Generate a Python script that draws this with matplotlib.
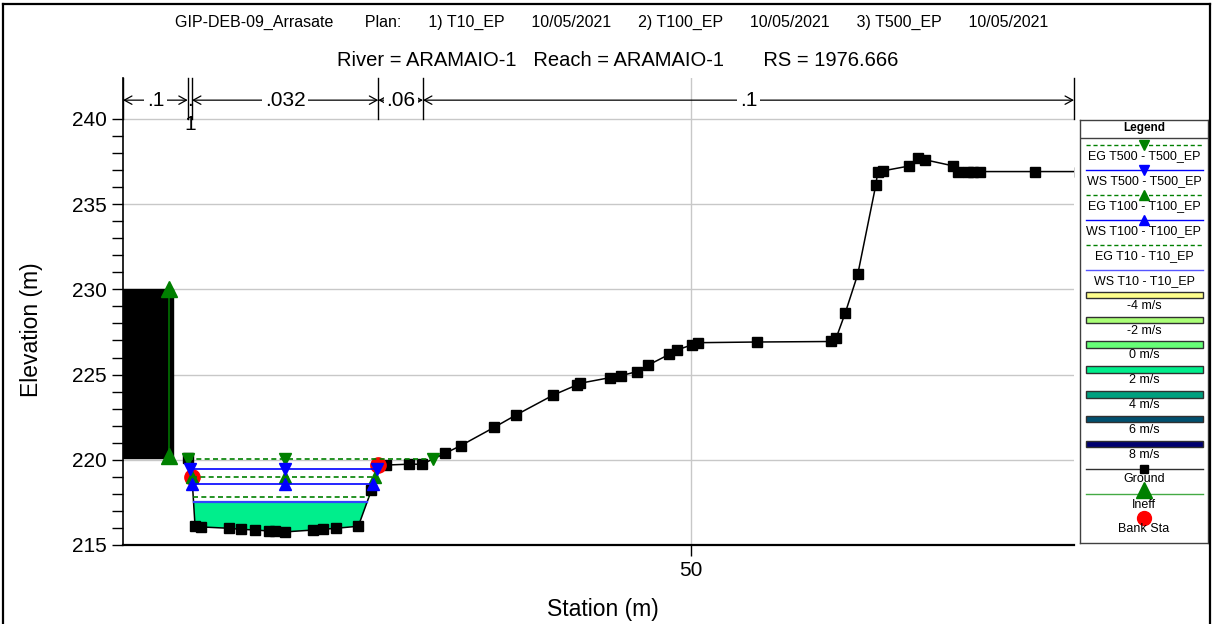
import numpy as np
import matplotlib
matplotlib.use("Agg")
import matplotlib.pyplot as plt
from matplotlib.lines import Line2D
from matplotlib.patches import Rectangle

plt.rcParams['font.family'] = ['Liberation Sans', 'DejaVu Sans']

# ---------------- data ----------------
ground_sta = [5.70, 6.07, 6.34, 6.87, 9.36, 10.36, 11.66, 12.87, 13.38, 14.30,
              16.75, 17.63, 18.72, 20.71, 21.87, 22.47, 23.11, 25.13, 26.32,
              28.35, 29.73, 32.69, 34.60, 37.88, 39.94, 40.23, 42.87, 43.84,
              45.22, 46.24, 48.09, 48.74, 50.06, 50.59, 55.81, 62.32, 62.76,
              63.56, 64.67, 66.26, 66.43, 66.87, 69.22, 69.96, 70.60, 73.09,
              73.53, 74.41, 74.85, 75.44, 80.28, 84.20]
ground_elev = [220.10, 219.00, 216.12, 216.06, 215.98, 215.92, 215.88, 215.82,
               215.80, 215.77, 215.88, 215.92, 215.98, 216.10, 218.23, 219.69,
               219.69, 219.74, 219.74, 220.38, 220.83, 221.91, 222.63, 223.80,
               224.39, 224.49, 224.82, 224.94, 225.17, 225.56, 226.19, 226.44,
               226.74, 226.87, 226.91, 226.94, 227.13, 228.60, 230.89, 236.13,
               236.91, 236.95, 237.24, 237.73, 237.60, 237.24, 236.91, 236.91,
               236.91, 236.91, 236.91, 236.91]

bank_sta = [6.07, 22.47]

obstruction_sta = [0.0, 4.40]
obstruction_elev = [220.10, 230.00]

ineff_sta = 4.08
ineff_elev = [220.25, 230.00]

ws_t10, eg_t10 = 217.54, 217.80
ws_t100, eg_t100 = 218.56, 218.97
ws_t500, eg_t500 = 219.46, 220.05

n_breaks = [0.0, 5.70, 6.07, 22.47, 26.40, 83.70]
n_values = ['.1', '.1', '.032', '.06', '.1']

legend_labels = ['EG T500 - T500_EP', 'WS T500 - T500_EP', 'EG T100 - T100_EP',
                 'WS T100 - T100_EP', 'EG T10 - T10_EP', 'WS T10 - T10_EP']
vel_labels = ['-4 m/s', '-2 m/s', '0 m/s', '2 m/s', '4 m/s', '6 m/s', '8 m/s']
vel_colors = ['#FFFF8C', '#AAFF77', '#66FF77', '#00EE8C', '#00A07F', '#00506F', '#000070']

title_line1 = ('GIP-DEB-09_Arrasate       Plan:      1) T10_EP      10/05/2021      '
               '2) T100_EP      10/05/2021      3) T500_EP      10/05/2021')
title_line2 = 'River = ARAMAIO-1   Reach = ARAMAIO-1       RS = 1976.666'

# ---------------- helpers ----------------
gs = np.array(ground_sta)
gz = np.array(ground_elev)


def wet_extent(level):
    """Left/right crossing of a water level with the ground around the thalweg."""
    i0 = int(np.argmin(gz))
    i = i0
    while i > 0 and gz[i - 1] < level:
        i -= 1
    left = gs[0] if i == 0 else np.interp(level, [gz[i], gz[i - 1]], [gs[i], gs[i - 1]])
    j = i0
    while j < len(gz) - 1 and gz[j + 1] < level:
        j += 1
    right = gs[-1] if j == len(gz) - 1 else np.interp(level, [gz[j], gz[j + 1]], [gs[j], gs[j + 1]])
    return left, right, i, j


# ---------------- figure ----------------
W, H = 1213, 624
fig = plt.figure(figsize=(W / 100, H / 100), dpi=100)

ax_l, ax_r, ax_b, ax_t = 123, 1074, 545, 78
ax = fig.add_axes([ax_l / W, 1 - ax_b / H, (ax_r - ax_l) / W, (ax_b - ax_t) / H])
ax.set_xlim(0, n_breaks[-1])
ax.set_ylim(215, 242.4)

ax.spines['top'].set_visible(False)
ax.spines['right'].set_visible(False)
ax.spines['left'].set_linewidth(1.2)
ax.spines['bottom'].set_linewidth(1.6)

ax.set_yticks([215, 220, 225, 230, 235, 240])
ax.set_yticks(np.arange(215, 241, 1), minor=True)
ax.set_xticks([50])
ax.tick_params(axis='both', which='major', labelsize=15, length=8, width=1)
ax.tick_params(axis='y', which='minor', length=8, width=1)
ax.set_axisbelow(True)
ax.grid(True, which='major', color='#C8C8C8', lw=1.0)

ax.set_xlabel('Station (m)', fontsize=16.5)
ax.set_ylabel('Elevation (m)', fontsize=16.5)
ax.xaxis.set_label_coords((603 - ax_l) / (ax_r - ax_l), -(598 - ax_b) / (ax_b - ax_t))
ax.yaxis.set_label_coords(-(ax_l - 43) / (ax_r - ax_l), (ax_b - 330) / (ax_b - ax_t))

# blocked obstruction
ax.add_patch(Rectangle((obstruction_sta[0], obstruction_elev[0]),
                       obstruction_sta[1] - obstruction_sta[0],
                       obstruction_elev[1] - obstruction_elev[0],
                       facecolor='black', edgecolor='black', zorder=2))

# ineffective flow marker
ax.plot([ineff_sta, ineff_sta], ineff_elev, color='#007000', lw=1.2,
        marker='^', ms=11, mfc='#008000', mec='#008000', zorder=6, clip_on=False)

# velocity fill below the lowest water surface
l10, r10, i10, j10 = wet_extent(ws_t10)
poly_x = [l10] + list(gs[i10:j10 + 1]) + [r10]
poly_z = [ws_t10] + list(gz[i10:j10 + 1]) + [ws_t10]
ax.fill(poly_x, poly_z, color='#00EE8C', zorder=2, lw=0)

center = 0.5 * (bank_sta[0] + bank_sta[1])


def profile_line(level, color, ls, marker, lw=1.2):
    left, right, _, _ = wet_extent(level)
    if marker is None:
        ax.plot([left, right], [level, level], color=color, ls=ls, lw=lw, zorder=5)
    else:
        ax.plot([left, center, right], [level] * 3, color=color, ls=ls, lw=lw,
                marker=marker, ms=8, mfc=color, mec=color, zorder=5)


profile_line(eg_t10, '#008000', (0, (3, 2)), None)
profile_line(ws_t10, '#3344FF', '-', None, lw=1.6)
profile_line(eg_t100, '#008000', (0, (3, 2)), '^')
profile_line(ws_t100, '#0000FF', '-', '^')
profile_line(eg_t500, '#008000', (0, (3, 2)), 'v')
profile_line(ws_t500, '#0000FF', '-', 'v')

# ground
ax.plot(gs, gz, color='black', lw=1.1, marker='s', ms=6.5, mfc='black',
        mec='black', zorder=4)

# bank stations
bank_z = np.interp(bank_sta, gs, gz)
ax.plot(bank_sta, bank_z, ls='none', marker='o', ms=11, mfc='#FF0000',
        mec='#FF0000', zorder=4.5)

# Manning's n bar along the top
n_y = 241.1
for b in n_breaks:
    ax.plot([b, b], [240.0, 242.4], color='black', lw=1.0, zorder=6, clip_on=False)
for k, nv in enumerate(n_values):
    a, b = n_breaks[k], n_breaks[k + 1]
    xc = 0.5 * (a + b)
    if b - a < 1.0:
        ax.text(xc, n_y, '.', ha='center', va='center', fontsize=15, zorder=8)
        ax.text(xc, 239.7, nv.strip('.'), ha='center', va='center', fontsize=15, zorder=8)
        continue
    for end in (a, b):
        ax.annotate('', xy=(end, n_y), xytext=(xc, n_y),
                    arrowprops=dict(arrowstyle='->,head_length=0.55,head_width=0.3',
                                    lw=0.9, color='black', shrinkA=0, shrinkB=0),
                    zorder=6)
    ax.text(xc, n_y, nv, ha='center', va='center', fontsize=15, zorder=8,
            bbox=dict(boxstyle='square,pad=0.12', fc='white', ec='none'))

# titles
fig.text(612 / W, 1 - 22 / H, title_line1, ha='center', va='center', fontsize=11.5)
fig.text(618 / W, 1 - 61 / H, title_line2, ha='center', va='center', fontsize=14.5)

# figure frame
for xs, ys in [([2.5 / W, 2.5 / W], [0, 1 - 3.5 / H]),
               ([2.5 / W, 1210 / W], [1 - 3.5 / H, 1 - 3.5 / H]),
               ([1210 / W, 1210 / W], [0, 1 - 3.5 / H])]:
    fig.add_artist(Line2D(xs, ys, transform=fig.transFigure, color='black', lw=1.6))

# ---------------- legend panel ----------------
lx0, ly0, lw_, lh_ = 1080, 120, 128, 423
lg = fig.add_axes([lx0 / W, 1 - (ly0 + lh_) / H, lw_ / W, lh_ / H])
lg.set_xlim(0, lw_)
lg.set_ylim(lh_, 0)
lg.set_xticks([])
lg.set_yticks([])
for sp in lg.spines.values():
    sp.set_color('#404040')
    sp.set_linewidth(1.0)

lg.text(lw_ / 2, 8, 'Legend', ha='center', va='center', fontsize=8.5, fontweight='bold')
lg.plot([0, lw_], [17.5, 17.5], color='#404040', lw=1.0)

x_a, x_b, x_m = 6, 122.7, 64
line_specs = [('#008000', (0, (3, 2)), 'v'), ('#0000FF', '-', 'v'),
              ('#008000', (0, (3, 2)), '^'), ('#0000FF', '-', '^'),
              ('#008000', (0, (3, 2)), None), ('#5555FF', '-', None)]
for k, (lab, (col, ls, mk)) in enumerate(zip(legend_labels, line_specs)):
    yl = 25 + 25 * k
    lg.plot([x_a, x_b], [yl, yl], color=col, ls=ls, lw=1.0)
    if mk is not None:
        lg.plot([x_m], [yl], marker=mk, ms=7, color=col, ls='none')
    lg.text(lw_ / 2, yl + 10.7, lab, ha='center', va='center', fontsize=9)

for k, (lab, col) in enumerate(zip(vel_labels, vel_colors)):
    yt = 171.7 + 24.8 * k
    lg.add_patch(Rectangle((x_a, yt), x_b - x_a, 6.6, facecolor=col,
                           edgecolor='#303030', lw=1.0))
    lg.text(lw_ / 2, yt + 14, lab, ha='center', va='center', fontsize=9)

lg.plot([x_a, x_b], [349, 349], color='#303030', lw=1.0)
lg.plot([x_m], [349], marker='s', ms=5.5, color='black', ls='none')
lg.text(lw_ / 2, 359.5, 'Ground', ha='center', va='center', fontsize=9)

lg.plot([x_a, x_b], [374, 374], color='#44AA44', lw=1.0)
lg.plot([x_m], [369.5], marker='^', ms=11, color='#008000', ls='none')
lg.text(lw_ / 2, 384.5, 'Ineff', ha='center', va='center', fontsize=9)

lg.plot([x_m], [397.5], marker='o', ms=10, color='#FF0000', ls='none')
lg.text(lw_ / 2, 409, 'Bank Sta', ha='center', va='center', fontsize=9)

fig.savefig('out.png', dpi=100)
